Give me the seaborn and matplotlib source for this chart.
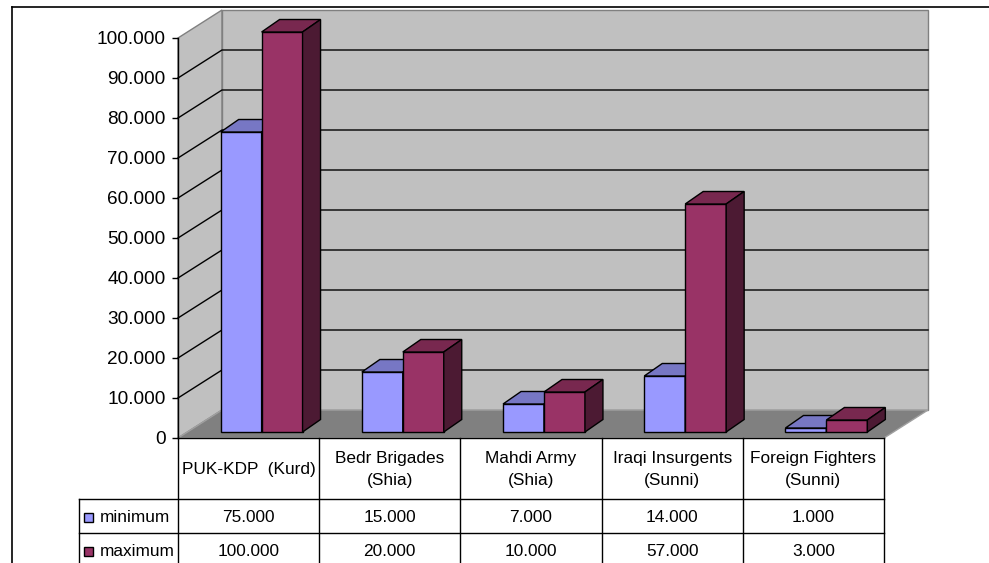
import pandas as pd
import matplotlib.pyplot as plt
import matplotlib.transforms as mtransforms
from matplotlib.lines import Line2D
from matplotlib.patches import Polygon, Rectangle
import seaborn as sns

# Data
categories = ['PUK-KDP  (Kurd)', 'Bedr Brigades\n(Shia)', 'Mahdi Army\n(Shia)',
              'Iraqi Insurgents\n(Sunni)', 'Foreign Fighters\n(Sunni)']
series = ['minimum', 'maximum']
minimum = [75000, 15000, 7000, 14000, 1000]
maximum = [100000, 20000, 10000, 57000, 3000]
yticks = list(range(0, 100001, 10000))

front = {'minimum': '#9999FF', 'maximum': '#993366'}
top = {'minimum': '#7777C4', 'maximum': '#78284F'}
side = {'minimum': '#4C4C80', 'maximum': '#4C1A33'}

df = pd.DataFrame({'group': categories * 2,
                   'series': ['minimum'] * len(categories) + ['maximum'] * len(categories),
                   'value': minimum + maximum})


def fmt(v):
    return f'{v:,}'.replace(',', '.')


plt.rcParams['font.family'] = ['Liberation Sans', 'DejaVu Sans']

W, H = 989, 563
fig = plt.figure(figsize=(W / 100, H / 100), dpi=100)
pix = mtransforms.Affine2D().scale(1 / W, -1 / H).translate(0, 1) + fig.transFigure

# plot area (front plane)
x0, x1, y0, y1 = 178, 884, 438, 38
ax = fig.add_axes([x0 / W, 1 - y0 / H, (x1 - x0) / W, (y0 - y1) / H])

sns.barplot(data=df, x='group', y='value', hue='series', order=categories,
            hue_order=series, palette=front, width=0.58, saturation=1,
            edgecolor='black', linewidth=1, legend=False, ax=ax)
ax.set_xlim(-0.5, len(categories) - 0.5)
ax.set_ylim(0, 100000)

ux = len(categories) / (x1 - x0)   # category units per pixel
uy = 100000 / (y0 - y1)            # value units per pixel
DX, DY = 44 * ux, 28 * uy          # wall depth
BX, BY = 13 * ux, 6 * uy           # bar plane offset
BDX, BDY = 18 * ux, 12.5 * uy      # bar depth

# walls and floor
L, R = -0.5, len(categories) - 0.5
wall_kw = dict(clip_on=False, edgecolor='#808080', linewidth=1, zorder=0.5)
ax.add_patch(Polygon([(L, 0), (L + DX, DY), (L + DX, 100000 + DY), (L, 100000)],
                     facecolor='#C0C0C0', **wall_kw))
ax.add_patch(Polygon([(L + DX, DY), (R + DX, DY), (R + DX, 100000 + DY), (L + DX, 100000 + DY)],
                     facecolor='#C0C0C0', **wall_kw))
ax.add_patch(Polygon([(L, 0), (L + DX, DY), (R + DX, DY), (R, 0)],
                     facecolor='#808080', clip_on=False, edgecolor='#A0A0A0',
                     linewidth=1, zorder=0.55))
for v in yticks[1:-1]:
    ax.plot([L, L + DX, R + DX], [v, v + DY, v + DY], color='black', lw=1,
            clip_on=False, zorder=0.6)

# 3D bars
for z, (name, cont) in enumerate(zip(series, ax.containers)):
    for p in cont:
        x, w, h = p.get_x() + BX, p.get_width(), p.get_height()
        p.set_x(x)
        p.set_y(BY)
        p.set_clip_on(False)
        p.set_zorder(3 + z)
        yb, yt = BY, BY + h
        ax.add_patch(Polygon([(x, yt), (x + BDX, yt + BDY), (x + w + BDX, yt + BDY), (x + w, yt)],
                             facecolor=top[name], edgecolor='black', lw=1,
                             clip_on=False, zorder=3 + z))
        ax.add_patch(Polygon([(x + w, yb), (x + w + BDX, yb + BDY), (x + w + BDX, yt + BDY), (x + w, yt)],
                             facecolor=side[name], edgecolor='black', lw=1,
                             clip_on=False, zorder=3 + z))

# axis styling
ax.patch.set_visible(False)
for s in ['top', 'right', 'bottom']:
    ax.spines[s].set_visible(False)
ax.spines['left'].set_linewidth(1)
ax.spines['left'].set_zorder(5)
ax.set_xticks([])
ax.set_yticks(yticks)
ax.set_yticklabels([fmt(v) for v in yticks])
ax.tick_params(axis='y', direction='out', length=4.5, width=1, pad=4.5,
               labelsize=13.7, colors='black')
ax.set_xlabel('')
ax.set_ylabel('')

# data table
cols = [x0 + i * (x1 - x0) / len(categories) for i in range(len(categories) + 1)]
rows = [438, 499, 533, 567]
lines = [([x0, x1], [rows[0], rows[0]]),
         ([79, x1], [rows[1], rows[1]]),
         ([79, x1], [rows[2], rows[2]]),
         ([79, 79], [rows[1], H])]
for c in cols:
    lines.append(([c, c], [rows[0], H]))
for xs, ys in lines:
    fig.add_artist(Line2D(xs, ys, color='black', lw=1, transform=pix))

for i, cat in enumerate(categories):
    cx = (cols[i] + cols[i + 1]) / 2
    fig.text(cx, (rows[0] + rows[1]) / 2 + 1, cat, transform=pix, ha='center',
             va='center', fontsize=12.4, linespacing=1.5)
    for r, vals in enumerate([minimum, maximum]):
        fig.text(cx, (rows[r + 1] + rows[r + 2]) / 2 + 1, fmt(vals[i]), transform=pix,
                 ha='center', va='center', fontsize=12.4)

for r, name in enumerate(series):
    cy = (rows[r + 1] + rows[r + 2]) / 2 + 1
    fig.add_artist(Rectangle((83.5, cy - 4.5), 9.5, 9.5, facecolor=front[name],
                             edgecolor='black', lw=1, transform=pix))
    fig.text(100, cy, name, transform=pix, ha='left', va='center', fontsize=12.4)

# outer frame
fig.add_artist(Line2D([11.5, 11.5], [7, H], color='black', lw=1.2, transform=pix))
fig.add_artist(Line2D([11.5, W], [7, 7], color='black', lw=1.2, transform=pix))

fig.savefig('out.png', dpi=100)
